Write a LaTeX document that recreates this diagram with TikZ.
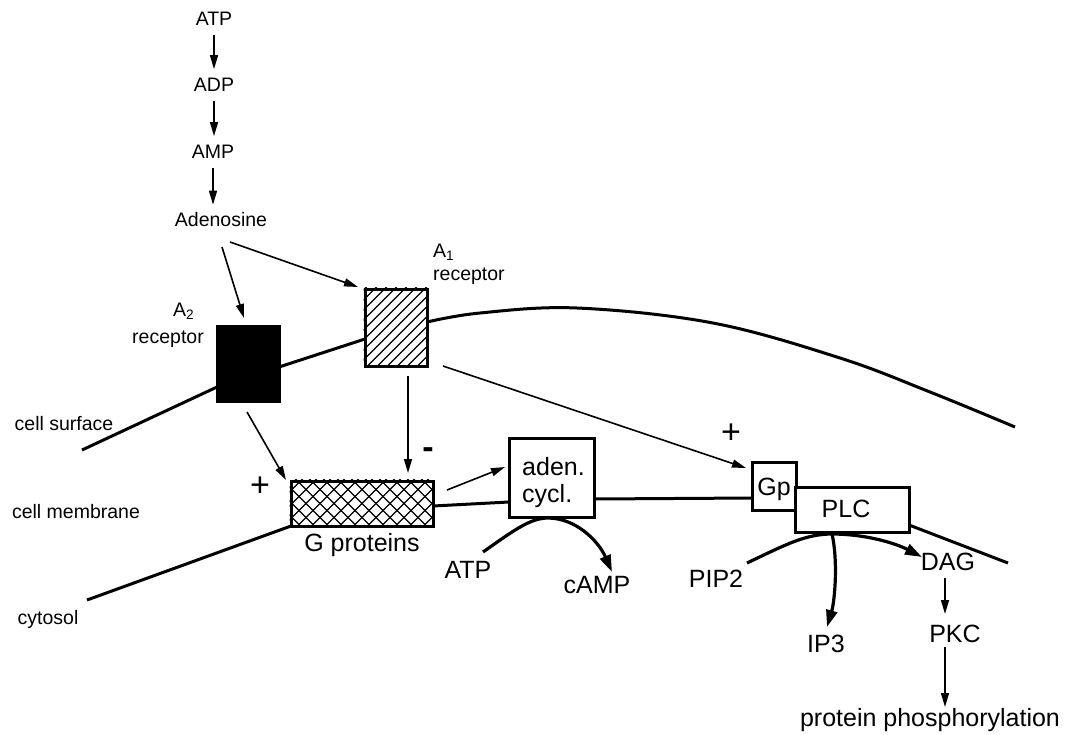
\documentclass[tikz,border=0pt]{standalone}
\usepackage{fontspec}
\setmainfont{Liberation Sans}
\usetikzlibrary{arrows.meta,calc}
\begin{document}
\begin{tikzpicture}[x=1pt,y=-1pt,
  small/.style={font=\fontsize{19.5}{22}\selectfont, inner sep=0pt},
  big/.style={font=\fontsize{25}{30}\selectfont, inner sep=0pt},
  sign/.style={font=\fontsize{34}{36}\selectfont, inner sep=0pt},
  thin arrow/.style={line width=1.6pt, -{Triangle[length=14pt,width=8pt]}},
  thick arrow/.style={line width=3.2pt, -{Triangle[length=17pt,width=11pt]}},
  membrane/.style={line width=3pt},
  box/.style={draw, line width=3pt, inner sep=0pt, fill=white},
  hatch/.style={line width=1.3pt},
]
\useasboundingbox (0,0) rectangle (1070,734);

% ---------- membrane lines ----------
% cell surface
\draw[membrane] (82,450) -- (217,387);
\draw[membrane] (279,367) -- (365,339);
\draw[membrane] plot[smooth, tension=0.6] coordinates
  {(427,322) (480,313) (577,308) (713,323) (840,358) (930,392) (1015,427)};
% cytosol side
\draw[membrane] (87,600) -- (291,526);
\draw[membrane] (433,506) -- (509,502);
\draw[membrane] (594,499) -- (752,498);
\draw[membrane] (909,525) -- (1008,563);

% ---------- receptors and membrane proteins ----------
\node[box, fill=black, minimum width=62, minimum height=75] (a2) at (248,363.5) {};
\node[box, minimum width=62, minimum height=77] (a1) at (396,327.5) {};
\begin{scope}
  \clip (a1.south west) rectangle (a1.north east);
  \foreach \i in {-90,-80,...,90}
    \draw[hatch] (396+\i-45,327.5+45) -- (396+\i+45,327.5-45);
\end{scope}

\node[box, minimum width=142, minimum height=45] (gprot) at (362,503.5) {};
\begin{scope}
  \clip (gprot.south west) rectangle (gprot.north east);
  \foreach \i in {-112,-98,...,112} {
    \draw[hatch] (362+\i-30,503.5+30) -- (362+\i+30,503.5-30);
    \draw[hatch] (362+\i-30,503.5-30) -- (362+\i+30,503.5+30);
  }
\end{scope}

\node[box, minimum width=85, minimum height=79] (aden) at (551.5,477.5) {};
\node[box, minimum width=44, minimum height=48] (gp) at (774,486) {};
\node[box, minimum width=114, minimum height=45] (plc) at (852,509.5) {};

% ---------- labels ----------
\node[small] (atpA) at (214,19) {ATP};
\node[small] (adp) at (214,85) {ADP};
\node[small] (amp) at (213,152) {AMP};
\node[small] (ado) at (221,220) {Adenosine};

\node[small, anchor=base west] (a2name) at (173,316) {A\textsubscript{2}};
\node[small, anchor=base] (a2rec) at (168,343) {receptor};
\node[small, anchor=base west] (a1name) at (433,257) {A\textsubscript{1}};
\node[small, anchor=base west] (a1rec) at (433,280) {receptor};

\node[small, anchor=base] (lsurf) at (64,430) {cell surface};
\node[small, anchor=base] (lmemb) at (76,518) {cell membrane};
\node[small, anchor=base] (lcyto) at (48,624) {cytosol};

\node[big, anchor=base] (gtext) at (362,551) {G proteins};
\node[big, anchor=base west] (aden1) at (522,475) {aden.};
\node[big, anchor=base west] (aden2) at (522,502) {cycl.};
\node[big, anchor=base] (gptext) at (774,495) {Gp};
\node[big, anchor=base] (plctext) at (846,517) {PLC};

\node[big, anchor=base] (atpB) at (468,578) {ATP};
\node[big, anchor=base] (camp) at (597,593) {cAMP};
\node[big, anchor=base] (pip) at (716,587) {PIP2};
\node[big, anchor=base] (ip3) at (826,652) {IP3};
\node[big, anchor=base] (dag) at (948,570) {DAG};
\node[big, anchor=base] (pkc) at (955,642) {PKC};
\node[big, anchor=base] (phos) at (930,726) {protein phosphorylation};

\node[sign] (plusA) at (260,487) {+};
\node[sign] (plusB) at (731,434) {+};
\node[sign, font=\bfseries\fontsize{34}{36}\selectfont] (minus) at (428,453) {-};

% ---------- adenosine formation ----------
\draw[thin arrow, shorten <=9pt, shorten >=9pt] (atpA.south) -- (adp.north);
\draw[thin arrow, shorten <=9pt, shorten >=9pt] (adp.south) -- (adp.south |- amp.north);
\draw[thin arrow, shorten <=9pt, shorten >=8pt] (amp.south) -- (amp.south |- ado.north);

% ---------- signalling arrows ----------
\coordinate (adoL) at (222,247);
\coordinate (adoR) at (230,242);
\coordinate (a2tip) at (244,318);
\coordinate (a1tip) at (358,287);
\draw[thin arrow] (adoL) -- (a2tip);
\draw[thin arrow] (adoR) -- (a1tip);

\coordinate (a2out) at (247,412);
\coordinate (gtipA) at (286,480);
\draw[thin arrow] (a2out) -- (gtipA);

\coordinate (a1out) at (408,376);
\coordinate (gtipB) at (408,473);
\draw[thin arrow] (a1out) -- (gtipB);

\coordinate (a1side) at (443,366);
\coordinate (gptip) at (746,468);
\draw[thin arrow] (a1side) -- (gptip);

\coordinate (gout) at (447,490);
\coordinate (adentip) at (505,467);
\draw[thin arrow] (gout) -- (adentip);

% DAG -> PKC -> protein phosphorylation
\coordinate (dagout) at (945,578);
\coordinate (pkcin) at (945,614);
\coordinate (pkcout) at (945,647);
\coordinate (phosin) at (945,707);
\draw[thin arrow] (dagout) -- (pkcin);
\draw[thin arrow] (pkcout) -- (phosin);

% ---------- enzyme reactions ----------
\draw[thick arrow] (483,552) .. controls (513,531) and (530,518) .. (548,518)
  .. controls (575,518) and (598,540) .. (612,572);
\draw[thick arrow] (747,563) .. controls (785,545) and (805,534) .. (832,534)
  .. controls (865,534) and (895,543) .. (922,557);
\draw[thick arrow] (832,534) .. controls (838,560) and (835,600) .. (827,627);
\end{tikzpicture}
\end{document}
